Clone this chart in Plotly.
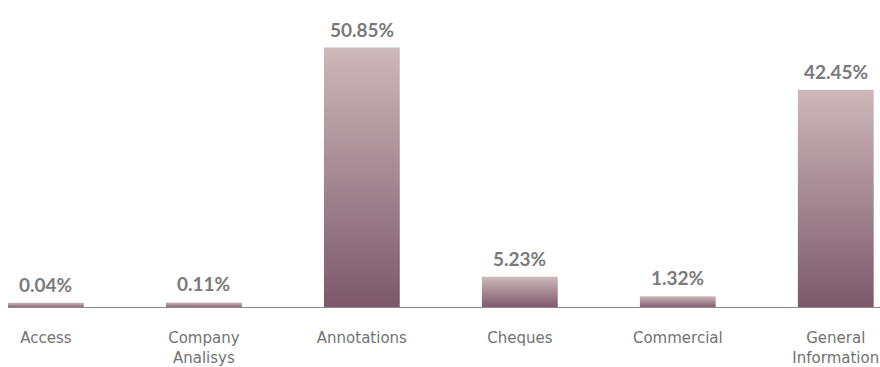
import plotly.graph_objects as go

categories = ["Access", "Company<br>Analisys", "Annotations", "Cheques", "Commercial", "General<br>Information"]
values = [0.04, 0.11, 50.85, 5.23, 1.32, 42.45]
value_labels = ["0.04%", "0.11%", "50.85%", "5.23%", "1.32%", "42.45%"]

TOP_COLOR = "#cdb8bb"
BOTTOM_COLOR = "#7c5869"
HALF_W = 0.24
BASE = -1.0  # bars rise from slightly below zero so tiny values stay visible

fig = go.Figure()
for i, v in enumerate(values):
    xs = [i - HALF_W, i + HALF_W, i + HALF_W, i - HALF_W, i - HALF_W]
    ys = [BASE, BASE, v, v, BASE]
    fig.add_trace(go.Scatter(
        x=xs, y=ys, mode="lines", fill="toself",
        line=dict(width=0),
        fillgradient=dict(type="vertical",
                          colorscale=[[0, BOTTOM_COLOR], [1, TOP_COLOR]]),
        hoverinfo="skip", showlegend=False,
    ))
    fig.add_annotation(x=i, y=v, text=value_labels[i], showarrow=False,
                       yanchor="bottom", yshift=5,
                       font=dict(family="Lato, Liberation Sans, sans-serif", size=19,
                                 color="#7a7a7a", weight="bold"))

fig.update_layout(
    width=880, height=367,
    margin=dict(l=8, r=0, t=20, b=54),
    paper_bgcolor="white", plot_bgcolor="white",
    xaxis=dict(range=[-0.24, 5.28], tickvals=list(range(len(categories))),
               ticktext=categories, showgrid=False, zeroline=False,
               showline=False, ticks="", ticklabelstandoff=19,
               tickfont=dict(family="DejaVu Sans, Liberation Sans, sans-serif", size=15, color="#727272")),
    yaxis=dict(range=[BASE, 56.35], visible=False, fixedrange=True),
    shapes=[dict(type="line", xref="paper", yref="y", x0=0, x1=1, y0=BASE, y1=BASE,
                 line=dict(color="#8a8a8a", width=2), layer="above")],
)

fig.write_html("out.html")
